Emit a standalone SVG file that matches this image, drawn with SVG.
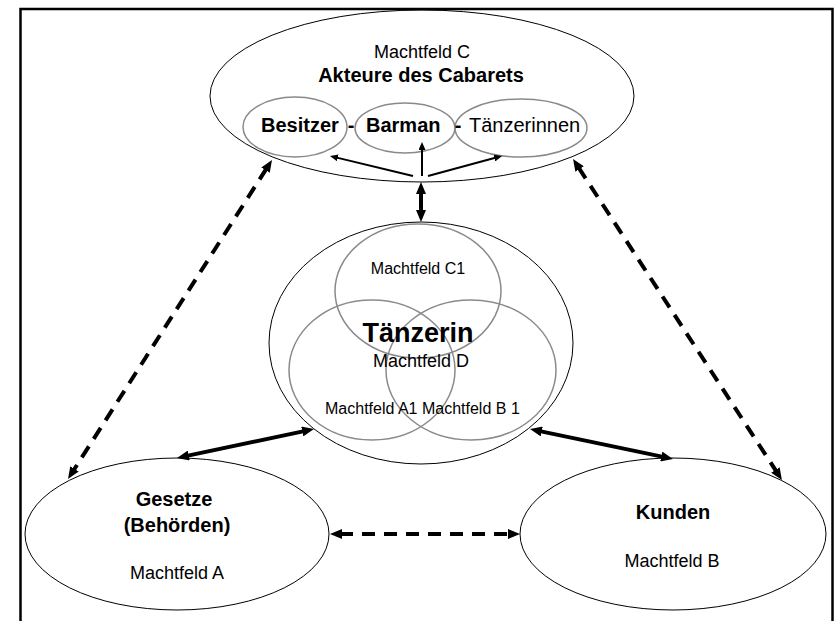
<svg xmlns="http://www.w3.org/2000/svg" width="836" height="621" viewBox="0 0 836 621">
<defs>
<style>
text{font-family:"Liberation Sans",Arial,sans-serif;fill:#000}
.b{font-weight:bold}
.outer{fill:none;stroke:#000;stroke-width:1}
.inner{fill:none;stroke:#8a8a8a;stroke-width:1.5}
.thick{fill:none;stroke:#000;stroke-width:4}
.dash{fill:none;stroke:#000;stroke-width:4;stroke-dasharray:13 9}
.thin{fill:none;stroke:#000;stroke-width:2}
</style>
<marker id="ah" markerUnits="userSpaceOnUse" markerWidth="12" markerHeight="10" refX="2" refY="5" orient="auto-start-reverse">
<path d="M0,0 L12,5 L0,10 z" fill="#000"/>
</marker>
<marker id="as" markerUnits="userSpaceOnUse" markerWidth="8" markerHeight="7" refX="1" refY="3.5" orient="auto">
<path d="M0,0 L8,3.5 L0,7 z" fill="#000"/>
</marker>
</defs>
<rect x="20.5" y="9" width="812" height="620" fill="#fff" stroke="#000" stroke-width="2.5"/>

<g id="node-cabaret">
<ellipse class="outer" cx="422" cy="96" rx="212" ry="86"/>
<text x="422" y="58" font-size="18" text-anchor="middle">Machtfeld C</text>
<text class="b" x="421" y="82" font-size="20" text-anchor="middle">Akteure des Cabarets</text>
</g>
<g id="node-besitzer">
<ellipse class="inner" cx="295" cy="127" rx="52" ry="30"/>
<text class="b" x="261" y="132" font-size="20">Besitzer</text>
</g>
<g id="node-barman">
<ellipse class="inner" cx="405" cy="128" rx="50" ry="25"/>
<text class="b" x="366" y="132" font-size="20">Barman</text>
</g>
<g id="node-taenzerinnen">
<ellipse class="inner" cx="521" cy="128" rx="66" ry="29"/>
<text x="469" y="132" font-size="20">Tänzerinnen</text>
</g>
<g id="dashes-between">
<text class="b" x="351" y="132" font-size="20" text-anchor="middle">-</text>
<text class="b" x="458" y="132" font-size="20" text-anchor="middle">-</text>
</g>

<g id="node-taenzerin">
<ellipse class="outer" cx="421" cy="343" rx="152" ry="121"/>
<ellipse class="inner" cx="418" cy="291" rx="83" ry="67"/>
<ellipse class="inner" cx="372" cy="370" rx="83" ry="70"/>
<ellipse class="inner" cx="471" cy="370" rx="85" ry="70"/>
<text x="418" y="274" font-size="16" text-anchor="middle">Machtfeld C1</text>
<text class="b" x="418" y="342" font-size="27" text-anchor="middle">Tänzerin</text>
<text x="421" y="367" font-size="18" text-anchor="middle">Machtfeld D</text>
<text x="325" y="414" font-size="16">Machtfeld A1 Machtfeld B 1</text>
</g>

<g id="node-gesetze">
<ellipse class="outer" cx="177" cy="534" rx="152" ry="76"/>
<text class="b" x="174" y="506" font-size="20" text-anchor="middle">Gesetze</text>
<text class="b" x="177" y="532" font-size="20" text-anchor="middle">(Behörden)</text>
<text x="177" y="579" font-size="18" text-anchor="middle">Machtfeld A</text>
</g>

<g id="node-kunden">
<ellipse class="outer" cx="673" cy="534" rx="153" ry="76"/>
<text class="b" x="673" y="519" font-size="20" text-anchor="middle">Kunden</text>
<text x="672" y="567" font-size="18" text-anchor="middle">Machtfeld B</text>
</g>

<g id="connectors">
<path class="dash" d="M266.6,168.4 L73.4,470.6" marker-start="url(#ah)" marker-end="url(#ah)"/>
<path class="dash" d="M578.5,167.4 L776.5,471.6" marker-start="url(#ah)" marker-end="url(#ah)"/>
<path class="dash" d="M340,534 L510,534" marker-start="url(#ah)" marker-end="url(#ah)"/>
<path class="thick" d="M186.8,455.9 L304.2,431.1" marker-start="url(#ah)" marker-end="url(#ah)"/>
<path class="thick" d="M539.8,431.1 L663.2,456.9" marker-start="url(#ah)" marker-end="url(#ah)"/>
<path class="thick" d="M421,192 L421,212" marker-start="url(#ah)" marker-end="url(#ah)"/>
<path class="thin" d="M413,176 L336.8,157.6" marker-end="url(#as)"/>
<path class="thin" d="M422,176 L422,149" marker-end="url(#as)"/>
<path class="thin" d="M428,176 L495.3,157.8" marker-end="url(#as)"/>
</g>
</svg>
